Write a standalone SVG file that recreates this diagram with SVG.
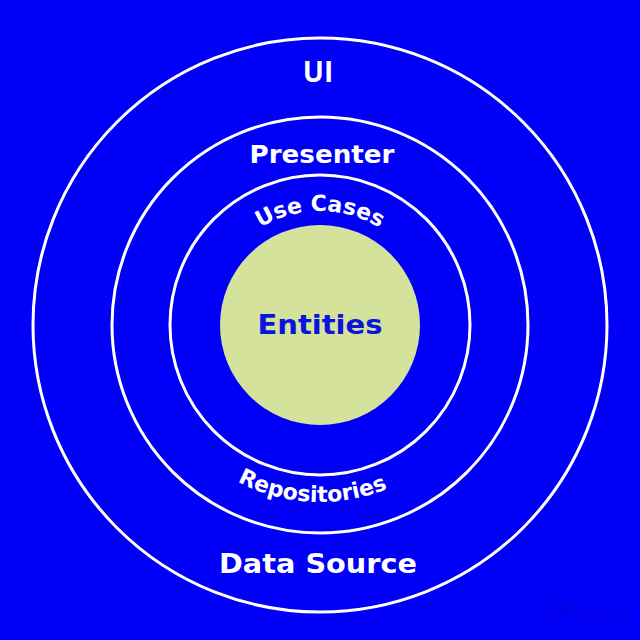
<svg xmlns="http://www.w3.org/2000/svg" width="640" height="640" viewBox="0 0 640 640">
<style>
.ring{fill:none;stroke:#ffffff;stroke-width:3}
.lbl{font-family:"DejaVu Sans","Open Sans",sans-serif;font-weight:bold;fill:#ffffff;text-anchor:middle}
</style>
<defs>
<path id="topArc" d="M206,325 A114,114 0 0 1 434,325"/>
<path id="botArc" d="M143,325 A177,177 0 0 0 497,325"/>
</defs>
<rect width="640" height="640" fill="#0000f8"/>
<g id="ui">
<circle class="ring" cx="320" cy="325" r="287"/>
<text class="lbl" x="318" y="82" style="font-family:'Open Sans',sans-serif;font-weight:700;font-size:28px">UI</text>
<text class="lbl" x="318" y="573" font-size="27" textLength="198" lengthAdjust="spacingAndGlyphs">Data Source</text>
</g>
<g id="presenter">
<circle class="ring" cx="320" cy="325" r="208"/>
<text class="lbl" x="322" y="163" font-size="25" textLength="145" lengthAdjust="spacingAndGlyphs">Presenter</text>
<text class="lbl" font-size="22"><textPath href="#botArc" startOffset="48.5%">Repositories</textPath></text>
</g>
<g id="usecases">
<circle class="ring" cx="320" cy="325" r="150"/>
<text class="lbl" font-size="22"><textPath href="#topArc" startOffset="50%">Use Cases</textPath></text>
</g>
<g id="entities">
<circle cx="320" cy="325" r="100" fill="#d4e29c"/>
<text class="lbl" x="320" y="334" font-size="27" style="fill:#0a14dc" textLength="125" lengthAdjust="spacingAndGlyphs">Entities</text>
</g>
<g id="watermark" opacity="0.5">
<path d="M556,598 L566,608 L556,618 L548,610 Z" fill="none" stroke="#0000d8" stroke-width="4"/>
<text x="565" y="623" font-family="DejaVu Sans, sans-serif" font-size="24" fill="#0000d8">Platzi</text>
</g>
</svg>
